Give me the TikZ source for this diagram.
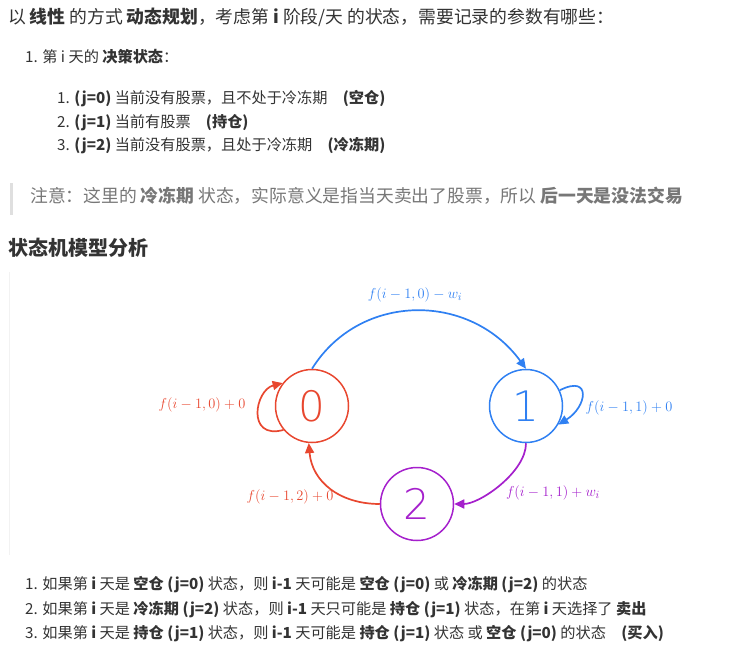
\documentclass[tikz,border=0pt]{standalone}
\usepackage{fontspec}
\setmainfont{Noto Sans CJK SC}
\newfontfamily\digitfont{DejaVu Sans ExtraLight}
\usepackage{tikz}
\usetikzlibrary{arrows.meta,positioning}
\definecolor{ink}{HTML}{333333}
\definecolor{quote}{HTML}{777777}
\definecolor{redc}{HTML}{E8472F}
\definecolor{bluec}{HTML}{2F80F2}
\definecolor{purpc}{HTML}{A520CC}

\begin{document}
\begin{tikzpicture}[x=1pt,y=1pt,
  txt/.style={anchor=west,inner sep=0pt,text=ink,font=\fontsize{15.2}{15.2}\selectfont},
  big/.style={txt,font=\fontsize{17.8}{17.8}\selectfont},
  st/.style={circle,draw,line width=1.5pt,minimum size=73pt,inner sep=0pt,font=\digitfont\fontsize{42}{42}\selectfont},
  lab/.style={inner sep=1pt,font=\fontsize{15}{15}\selectfont},
  arr/.style={line width=1.7pt,-{Triangle[length=10pt,width=9pt]}}]
  \useasboundingbox (0,0) rectangle (749,662);
  % text above the picture
  \node[big] (t) at (8,645) {以 \textbf{线性} 的方式 \textbf{动态规划}，考虑第 \textbf{i} 阶段/天 的状态，需要记录的参数有哪些：};
  \node[txt] (d) at (25,605) {1. 第 i 天的 \textbf{决策状态}：};
  \node[txt] (d1) at (57,563) {1. \textbf{(j=0)} 当前没有股票，且不处于冷冻期\quad\textbf{(空仓)}};
  \node[txt] (d2) [below=23.5pt of d1.west,anchor=west] {2. \textbf{(j=1)} 当前有股票\quad\textbf{(持仓)}};
  \node[txt] (d3) [below=23.5pt of d2.west,anchor=west] {3. \textbf{(j=2)} 当前没有股票，且处于冷冻期\quad\textbf{(冷冻期)}};
  \fill[gray!25] (10,447) rectangle (13,479);
  \node[big,text=quote] (q) at (30,466) {注意：这里的 \textbf{冷冻期} 状态，实际意义是指当天卖出了股票，所以 \textbf{后一天是没法交易}};
  \node[txt,font=\bfseries\fontsize{20}{20}\selectfont] (h) at (8,414) {状态机模型分析};
  \draw[gray!10,line width=1pt] (9,390) -- (9,107);
  % state machine
  \node[st,draw=redc,text=redc] (s0) at (312,256) {0};
  \node[st,draw=bluec,text=bluec] (s1) at (526,256) {1};
  \node[st,draw=purpc,text=purpc] (s2) at (417,158) {2};
  \draw[arr,bluec] (s0.north) .. controls (360,370) and (470,370) .. (s1.north);
  \draw[arr,redc] (s0.220) .. controls (246,222) and (255,272) .. (s0.142);
  \draw[arr,bluec] (s1.25) .. controls (592,288) and (587,255) .. (s1.-30);
  \draw[arr,purpc] (s1.south) .. controls (526,190) and (480,158) .. (s2.east);
  \draw[arr,redc] (s2.west) .. controls (340,158) and (312,180) .. (s0.265);
  \node[lab,text=bluec] (l01) at (415,367) {$f(i-1,0)-w_i$};
  \node[lab,text=redc] (l00) at (202,257) {$f(i-1,0)+0$};
  \node[lab,text=bluec] (l11) at (629,254) {$f(i-1,1)+0$};
  \node[lab,text=purpc] (l12) at (553,169) {$f(i-1,1)+w_i$};
  \node[lab,text=redc] (l20) at (290,165) {$f(i-1,2)+0$};
  % text below the picture
  \node[txt] (b1) at (25,77) {1. 如果第 \textbf{i} 天是 \textbf{空仓 (j=0)} 状态，则 \textbf{i-1} 天可能是 \textbf{空仓 (j=0)} 或 \textbf{冷冻期 (j=2)} 的状态};
  \node[txt] (b2) [below=24.5pt of b1.west,anchor=west] {2. 如果第 \textbf{i} 天是 \textbf{冷冻期 (j=2)} 状态，则 \textbf{i-1} 天只可能是 \textbf{持仓 (j=1)} 状态，在第 \textbf{i} 天选择了 \textbf{卖出}};
  \node[txt] (b3) [below=24.5pt of b2.west,anchor=west] {3. 如果第 \textbf{i} 天是 \textbf{持仓 (j=1)} 状态，则 \textbf{i-1} 天可能是 \textbf{持仓 (j=1)} 状态 或 \textbf{空仓 (j=0)} 的状态\quad\textbf{(买入)}};
\end{tikzpicture}
\end{document}
